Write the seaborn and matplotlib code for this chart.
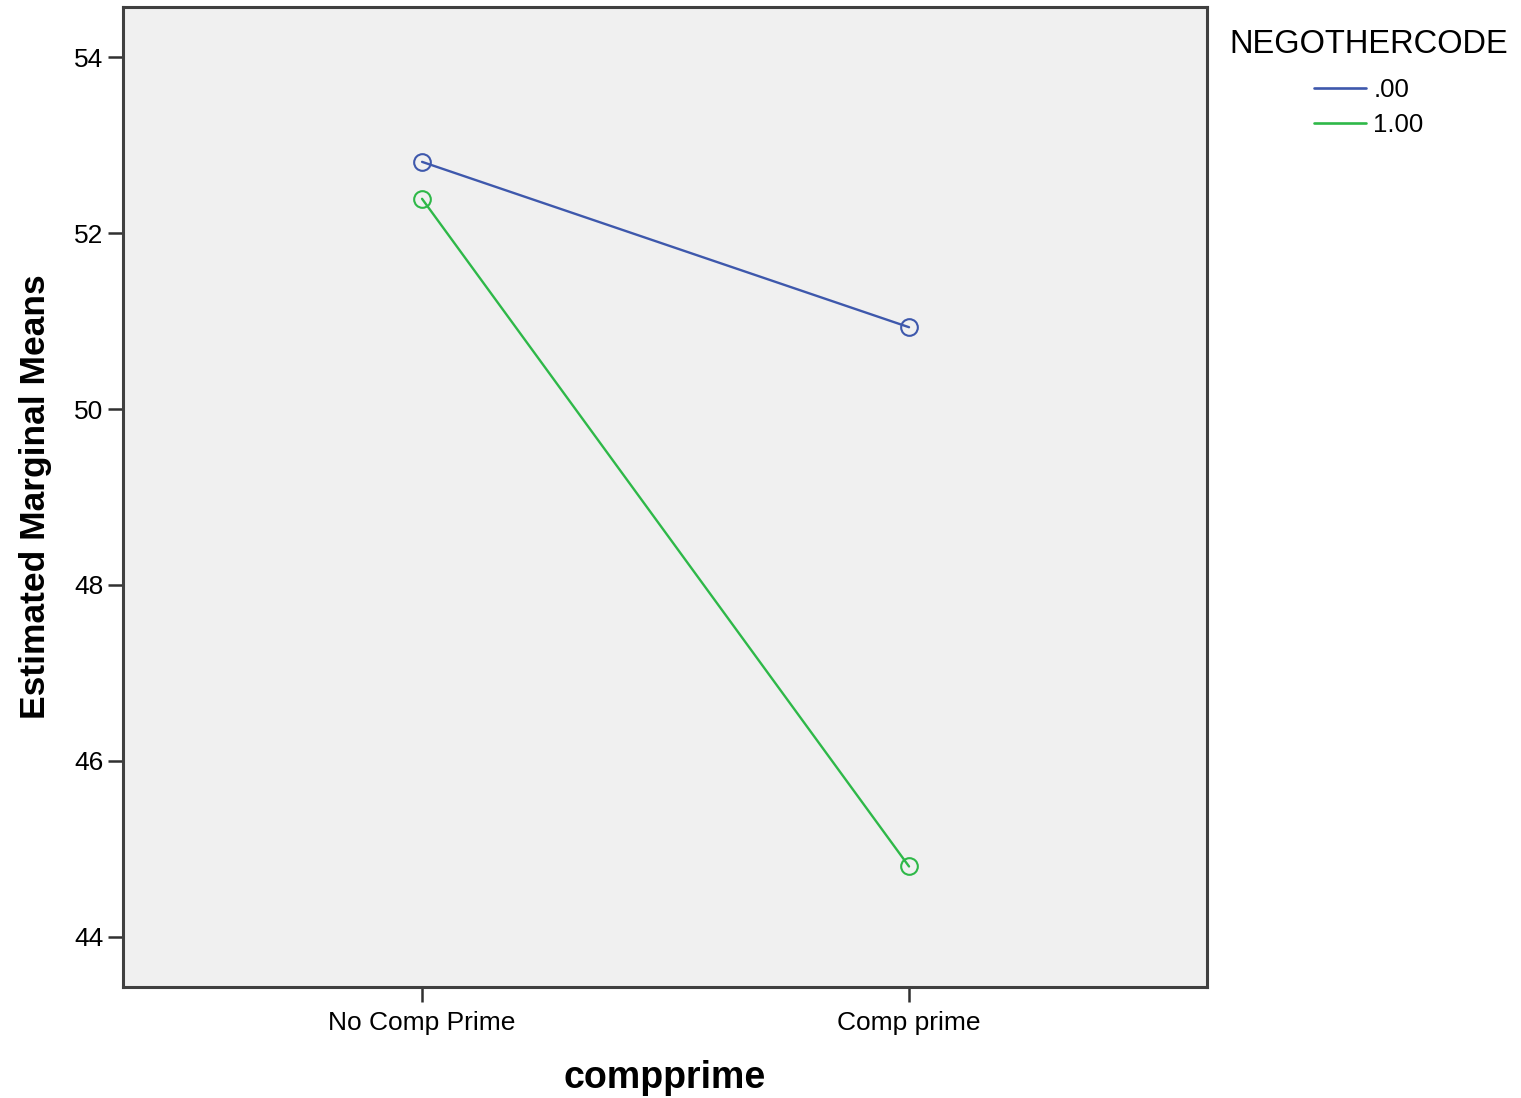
import pandas as pd
import matplotlib
matplotlib.use("Agg")
import matplotlib.pyplot as plt
from matplotlib.lines import Line2D
import seaborn as sns

# estimated marginal means
compprime = ['No Comp Prime', 'Comp prime']
codes = ['.00', '1.00']
means_00 = [52.81, 50.93]
means_100 = [52.39, 44.80]
colors = ['#3e58ac', '#2eb848']

df = pd.DataFrame({
    'compprime': compprime * 2,
    'NEGOTHERCODE': [codes[0]] * 2 + [codes[1]] * 2,
    'mean': means_00 + means_100,
})

sns.set_style("white")
plt.rcParams["font.family"] = ["Liberation Sans", "DejaVu Sans"]
plt.rcParams["text.color"] = "black"
plt.rcParams["axes.labelcolor"] = "black"

fig = plt.figure(figsize=(15.21, 10.98), dpi=100)
ax = fig.add_axes([0.0809, 0.1011, 0.7127, 0.8925])
ax.set_facecolor('#f0f0f0')

sns.lineplot(data=df, x='compprime', y='mean', hue='NEGOTHERCODE',
             palette=dict(zip(codes, colors)), marker='o', markersize=12,
             linewidth=1.7, legend=False, ax=ax)

for line in ax.lines:
    line.set_markeredgecolor(line.get_color())
    line.set_markerfacecolor('none')
    line.set_markeredgewidth(1.5)

ax.set_xlim(-0.614, 1.612)
ax.set_ylim(43.43, 54.57)
ax.set_yticks([44, 46, 48, 50, 52, 54])
ax.set_yticklabels(['44', '46', '48', '50', '52', '54'])

for s in ax.spines.values():
    s.set_color('#404040')
    s.set_linewidth(2.2)

ax.tick_params(axis='both', direction='out', length=11, width=1.8,
               color='#303030', labelsize=19, labelcolor='black')
ax.tick_params(axis='y', left=True, pad=3)
ax.tick_params(axis='x', bottom=True, pad=6)

ax.set_xlabel('compprime', fontsize=27, fontweight='bold', labelpad=18)
ax.set_ylabel('Estimated Marginal Means', fontsize=25.5, fontweight='bold', labelpad=16)

handles = [Line2D([0], [0], color=c, lw=1.9) for c in colors]
leg = fig.legend(handles, codes, title='NEGOTHERCODE', loc='upper center',
                 bbox_to_anchor=(1369 / 1521, 0.995), frameon=False,
                 fontsize=18.5, title_fontsize=23.5, handlelength=2.0,
                 handletextpad=0.3, labelspacing=0.45)
leg._legend_box.sep = 13

fig.savefig('out.png', dpi=100, facecolor='white')
